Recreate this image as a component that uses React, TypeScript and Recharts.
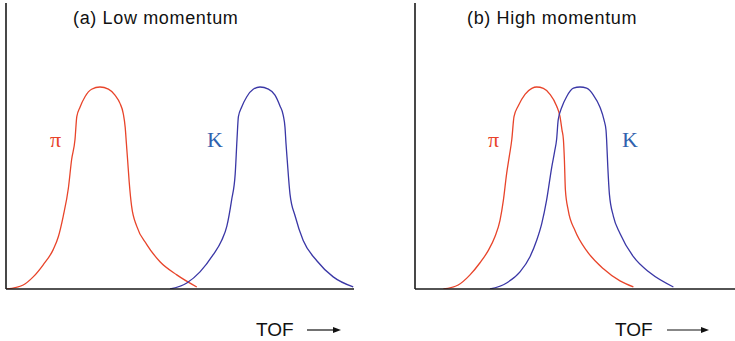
import React from "react";
import { LineChart, Line, XAxis, YAxis } from "recharts";

// Panel (a) Low momentum — TOF (arb. units) and normalised counts
const lowPionTof = [0.2, 4.3, 6.8, 9.3, 11.8, 13.1, 14.3, 15.6, 16.4, 17.25, 17.7, 18.5, 19.75, 21.4, 23.5, 25.6, 27.25, 28.5, 29.3, 29.8, 30.1, 30.4, 30.8, 31.4, 32.7, 35.2, 38.5, 42.7, 47.7];
const lowPionCounts = [0.0, 0.02, 0.06, 0.12, 0.195, 0.26, 0.36, 0.5, 0.64, 0.74, 0.853, 0.9, 0.952, 0.989, 1.0, 0.99, 0.96, 0.919, 0.87, 0.8, 0.72, 0.64, 0.53, 0.41, 0.31, 0.22, 0.135, 0.07, 0.01];
const lowKaonTof = [41.0, 45.2, 48.5, 51.8, 53.9, 55.2, 56.4, 57.3, 57.75, 58.1, 58.9, 60.2, 61.8, 63.5, 65.6, 67.25, 68.5, 69.3, 69.75, 70.0, 70.3, 71.0, 72.3, 74.3, 77.7, 81.8, 86.8];
const lowKaonCounts = [0.0, 0.03, 0.085, 0.17, 0.24, 0.31, 0.44, 0.57, 0.74, 0.853, 0.9, 0.952, 0.989, 1.0, 0.99, 0.96, 0.906, 0.861, 0.8, 0.72, 0.64, 0.47, 0.36, 0.24, 0.14, 0.06, 0.01];

// Panel (b) High momentum
const highPionTof = [7.1, 10.8, 13.75, 16.25, 18.3, 20.0, 21.25, 22.1, 22.9, 23.6, 24.2, 24.75, 25.8, 27.5, 29.2, 30.4, 32.1, 33.75, 35.4, 36.25, 36.75, 37.1, 37.35, 37.6, 38.3, 40.0, 42.9, 47.1, 51.25, 54.6];
const highPionCounts = [0.0, 0.02, 0.07, 0.13, 0.19, 0.26, 0.34, 0.44, 0.57, 0.66, 0.74, 0.853, 0.906, 0.964, 0.993, 1.0, 0.993, 0.964, 0.906, 0.853, 0.787, 0.74, 0.64, 0.49, 0.39, 0.29, 0.19, 0.1, 0.04, 0.01];
const highKaonTof = [18.75, 22.9, 26.25, 28.75, 30.4, 31.7, 32.9, 34.2, 34.9, 35.4, 35.8, 36.7, 37.9, 39.6, 41.25, 42.9, 44.6, 46.25, 47.25, 47.75, 47.9, 48.2, 48.6, 49.6, 51.25, 54.6, 58.75, 64.6];
const highKaonCounts = [0.0, 0.03, 0.085, 0.16, 0.24, 0.325, 0.44, 0.605, 0.68, 0.74, 0.837, 0.9, 0.952, 0.994, 1.0, 0.994, 0.96, 0.9, 0.837, 0.787, 0.74, 0.605, 0.47, 0.36, 0.275, 0.16, 0.08, 0.01];

const panelTitles = ["(a) Low momentum", "(b) High momentum"];
const particleLabels = ["π", "K"];
const axisLabel = "TOF";

const lowDomain = [0, 87];
const highDomain = [0, 80];
const countDomain = [0, 1.416];

const RED = "#E8442A";
const BLUE = "#3A37A6";
const LABEL_BLUE = "#2F62AE";
const AXIS = "#1a1a1a";

const zip = (t: number[], c: number[]) => t.map((v, i) => ({ t: v, y: c[i] }));

const sans = "'Liberation Sans', Arial, sans-serif";
const serif = "'Liberation Serif', 'Times New Roman', serif";

function Arrow({ left, top, width }: { left: number; top: number; width: number }) {
  return (
    <svg style={{ position: "absolute", left, top }} width={width} height={8}>
      <line x1={0} y1={4} x2={width - 6} y2={4} stroke="#111" strokeWidth={1.2} />
      <polygon points={`${width - 8},1 ${width},4 ${width - 8},7`} fill="#111" />
    </svg>
  );
}

function Panel({
  left,
  width,
  marginLeft,
  marginRight,
  domain,
  pion,
  kaon,
}: {
  left: number;
  width: number;
  marginLeft: number;
  marginRight: number;
  domain: number[];
  pion: { t: number; y: number }[];
  kaon: { t: number; y: number }[];
}) {
  return (
    <div style={{ position: "absolute", left, top: 0 }}>
      <LineChart
        width={width}
        height={341}
        margin={{ top: 3, left: marginLeft, right: marginRight, bottom: 51 }}
      >
        <XAxis
          type="number"
          dataKey="t"
          domain={domain}
          allowDataOverflow
          tick={false}
          tickLine={false}
          height={1}
          axisLine={{ stroke: AXIS, strokeWidth: 1.6 }}
        />
        <YAxis
          type="number"
          dataKey="y"
          domain={countDomain}
          allowDataOverflow
          tick={false}
          tickLine={false}
          width={1}
          axisLine={{ stroke: AXIS, strokeWidth: 1.6 }}
        />
        <Line
          data={pion}
          dataKey="y"
          type="monotone"
          stroke={RED}
          strokeWidth={1.3}
          dot={false}
          activeDot={false}
          isAnimationActive={false}
        />
        <Line
          data={kaon}
          dataKey="y"
          type="monotone"
          stroke={BLUE}
          strokeWidth={1.3}
          dot={false}
          activeDot={false}
          isAnimationActive={false}
        />
      </LineChart>
    </div>
  );
}

export default function App() {
  const textBase: React.CSSProperties = { position: "absolute", whiteSpace: "nowrap", lineHeight: 1 };
  return (
    <div
      style={{
        position: "absolute",
        left: 0,
        top: 0,
        width: 735,
        height: 341,
        background: "#fff",
        overflow: "hidden",
      }}
    >
      <Panel
        left={0}
        width={370}
        marginLeft={5}
        marginRight={16}
        domain={lowDomain}
        pion={zip(lowPionTof, lowPionCounts)}
        kaon={zip(lowKaonTof, lowKaonCounts)}
      />
      <Panel
        left={370}
        width={365}
        marginLeft={44}
        marginRight={0}
        domain={highDomain}
        pion={zip(highPionTof, highPionCounts)}
        kaon={zip(highKaonTof, highKaonCounts)}
      />

      <div style={{ ...textBase, left: 73, top: 9, fontFamily: sans, fontSize: 18, letterSpacing: 0.65, color: "#111" }}>
        {panelTitles[0]}
      </div>
      <div style={{ ...textBase, left: 467, top: 9, fontFamily: sans, fontSize: 18, letterSpacing: 0.65, color: "#111" }}>
        {panelTitles[1]}
      </div>

      <div style={{ ...textBase, left: 50, top: 129, fontFamily: serif, fontSize: 22, color: RED }}>
        {particleLabels[0]}
      </div>
      <div style={{ ...textBase, left: 207, top: 129, fontFamily: serif, fontSize: 22, color: LABEL_BLUE }}>
        {particleLabels[1]}
      </div>
      <div style={{ ...textBase, left: 488, top: 129, fontFamily: serif, fontSize: 22, color: RED }}>
        {particleLabels[0]}
      </div>
      <div style={{ ...textBase, left: 622, top: 129, fontFamily: serif, fontSize: 22, color: LABEL_BLUE }}>
        {particleLabels[1]}
      </div>

      <div style={{ ...textBase, left: 256, top: 320, fontFamily: sans, fontSize: 19, color: "#111" }}>
        {axisLabel}
      </div>
      <Arrow left={307} top={326} width={34} />
      <div style={{ ...textBase, left: 615, top: 320, fontFamily: sans, fontSize: 19, color: "#111" }}>
        {axisLabel}
      </div>
      <Arrow left={667} top={326} width={42} />
    </div>
  );
}
